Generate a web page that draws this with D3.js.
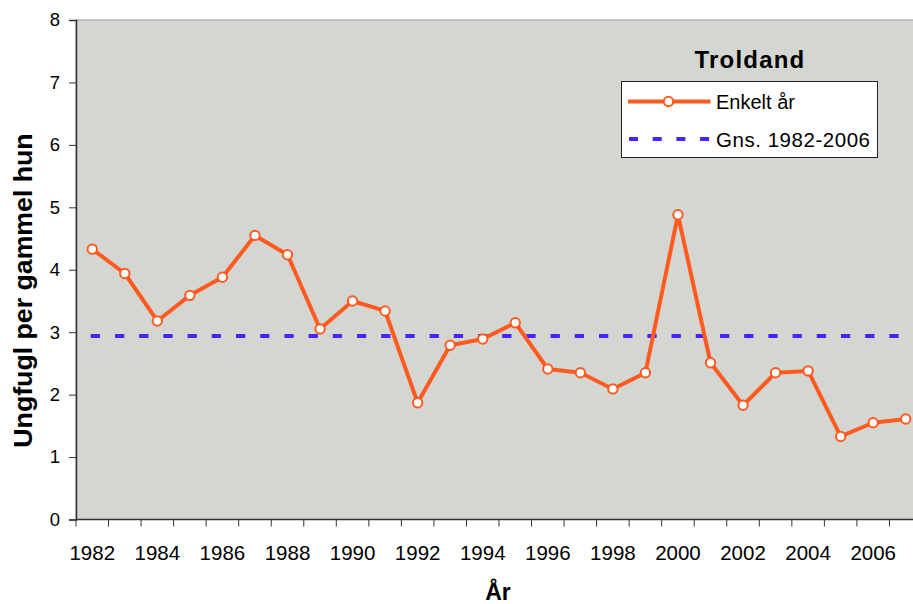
<!DOCTYPE html>
<html>
<head>
<meta charset="utf-8">
<script src="https://cdn.jsdelivr.net/npm/d3@7.9.0/dist/d3.min.js"></script>
<style>
  body { margin: 0; background: #fff; }
  svg { display: block; font-family: "Liberation Sans", Arial, sans-serif; }
</style>
</head>
<body>
<svg id="chart" width="913" height="604"></svg>
<script>
// data
const years = d3.range(1982, 2008);
const enkeltAar = [4.33, 3.94, 3.18, 3.59, 3.88, 4.55, 4.24, 3.05, 3.50, 3.34,
  1.87, 2.79, 2.89, 3.15, 2.41, 2.35, 2.09, 2.35, 4.88, 2.51,
  1.83, 2.35, 2.38, 1.33, 1.55, 1.61];
const gennemsnit = 2.94;
const yTicks = [0, 1, 2, 3, 4, 5, 6, 7, 8];
const xLabels = d3.range(1982, 2007, 2);

const svg = d3.select('#chart');
const plotL = 76, plotR = 922, plotT = 20, plotB = 519.5;

const x = d3.scaleBand().domain(years).range([plotL, plotR]).padding(0);
const y = d3.scaleLinear().domain([0, 8]).range([plotB, plotT]);
const cx = (d) => x(d) + x.bandwidth() / 2;

// plot area
svg.append('rect')
  .attr('x', plotL).attr('y', plotT)
  .attr('width', plotR - plotL).attr('height', plotB - plotT)
  .attr('fill', '#d4d6d1')
  .attr('stroke', '#9a9a9a').attr('stroke-width', 1);

// y axis
const yAxis = svg.append('g').attr('transform', `translate(${plotL},0)`)
  .call(d3.axisLeft(y).tickValues(yTicks).tickSize(7).tickPadding(9));
yAxis.select('.domain').attr('stroke', '#333').attr('stroke-width', 1.5);
yAxis.selectAll('.tick line').attr('stroke', '#333');
yAxis.selectAll('text').attr('font-size', 18.5).attr('fill', '#000')
  .attr('font-family', '"Liberation Sans", Arial, sans-serif');

// x axis: ticks between categories, labels on every other year
const xg = svg.append('g');
xg.append('line')
  .attr('x1', plotL).attr('x2', plotR)
  .attr('y1', plotB).attr('y2', plotB)
  .attr('stroke', '#333').attr('stroke-width', 1.5);
xg.selectAll('.xt').data(years).join('line')
  .attr('x1', (d) => x(d)).attr('x2', (d) => x(d))
  .attr('y1', plotB).attr('y2', plotB + 7)
  .attr('stroke', '#333');
xg.selectAll('.xl').data(xLabels).join('text')
  .attr('x', (d) => cx(d)).attr('y', 559.5)
  .attr('text-anchor', 'middle').attr('font-size', 20.5)
  .text((d) => d);

// average line
svg.append('line')
  .attr('x1', cx(1982) - 1.5).attr('x2', plotR)
  .attr('y1', y(gennemsnit)).attr('y2', y(gennemsnit))
  .attr('stroke', '#4a22ff').attr('stroke-width', 4)
  .attr('stroke-dasharray', '9.3 14.9');

// series line
const line = d3.line().x((d, i) => cx(years[i])).y((d) => y(d));
svg.append('path')
  .datum(enkeltAar)
  .attr('d', line)
  .attr('fill', 'none')
  .attr('stroke', '#ff5a1f').attr('stroke-width', 4)
  .attr('stroke-linejoin', 'round');
svg.selectAll('.pt').data(enkeltAar).join('circle')
  .attr('cx', (d, i) => cx(years[i])).attr('cy', (d) => y(d))
  .attr('r', 4.7)
  .attr('fill', '#fff').attr('stroke', '#ff5a1f').attr('stroke-width', 2);

// titles
svg.append('text')
  .attr('transform', 'translate(32,290.5) rotate(-90)')
  .attr('text-anchor', 'middle').attr('font-size', 26.7).attr('font-weight', 'bold')
  .text('Ungfugl per gammel hun');
svg.append('text')
  .attr('x', 498).attr('y', 600)
  .attr('text-anchor', 'middle').attr('font-size', 23).attr('font-weight', 'bold')
  .text('År');

// legend
svg.append('text')
  .attr('x', 750).attr('y', 68)
  .attr('text-anchor', 'middle').attr('font-size', 24).attr('font-weight', 'bold')
  .attr('letter-spacing', 1.2)
  .text('Troldand');
const lg = svg.append('g');
lg.append('rect')
  .attr('x', 621.5).attr('y', 81.5).attr('width', 256).attr('height', 76)
  .attr('fill', '#fff').attr('stroke', '#222').attr('stroke-width', 1);
lg.append('line')
  .attr('x1', 628).attr('x2', 710.5).attr('y1', 101.5).attr('y2', 101.5)
  .attr('stroke', '#ff5a1f').attr('stroke-width', 4);
lg.append('circle')
  .attr('cx', 668.5).attr('cy', 101.5).attr('r', 4.7)
  .attr('fill', '#fff').attr('stroke', '#ff5a1f').attr('stroke-width', 2);
lg.append('text')
  .attr('x', 716).attr('y', 109).attr('font-size', 20)
  .text('Enkelt år');
lg.append('line')
  .attr('x1', 629).attr('x2', 710.5).attr('y1', 139).attr('y2', 139)
  .attr('stroke', '#4a22ff').attr('stroke-width', 4)
  .attr('stroke-dasharray', '9 14.7');
lg.append('text')
  .attr('x', 716).attr('y', 147).attr('font-size', 20.5)
  .attr('textLength', 154).attr('lengthAdjust', 'spacing')
  .text('Gns. 1982-2006');
</script>
</body>
</html>
